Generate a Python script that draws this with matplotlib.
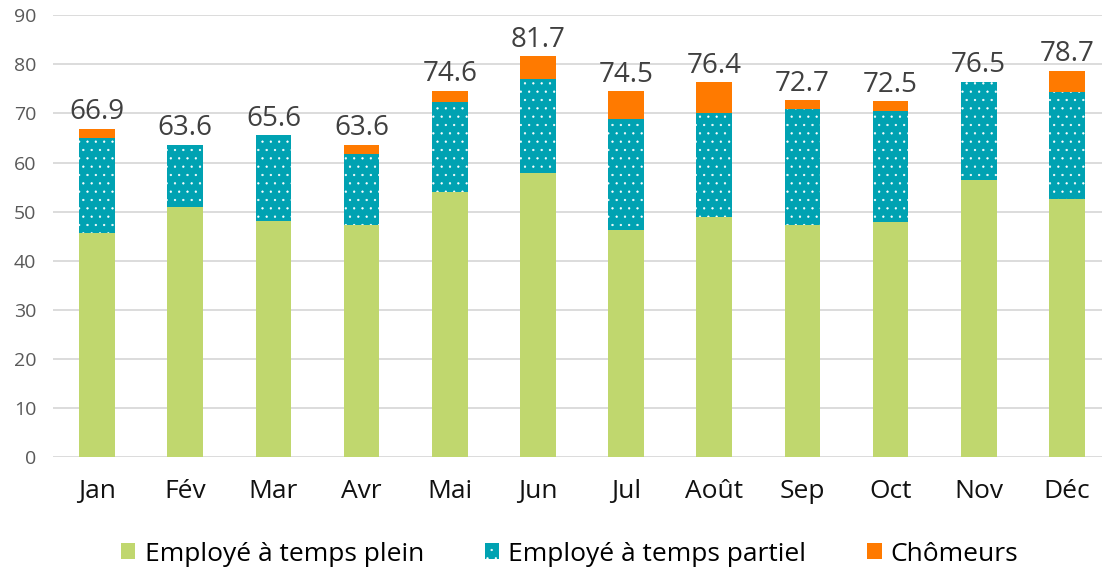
import matplotlib
matplotlib.use("Agg")
import matplotlib.pyplot as plt
import numpy as np

months = ["Jan", "Fév", "Mar", "Avr", "Mai", "Jun", "Jul", "Août", "Sep", "Oct", "Nov", "Déc"]
plein = [45.7, 51.0, 48.0, 47.3, 54.0, 57.9, 46.2, 49.0, 47.3, 47.9, 56.5, 52.6]
partiel = [19.2, 12.6, 17.6, 14.5, 18.4, 19.2, 22.6, 21.1, 23.6, 22.5, 20.0, 21.7]
chomeurs = [2.0, 0.0, 0.0, 1.8, 2.2, 4.6, 5.7, 6.3, 1.8, 2.1, 0.0, 4.4]
series_names = ["Employé à temps plein", "Employé à temps partiel", "Chômeurs"]
yticks = [0, 10, 20, 30, 40, 50, 60, 70, 80, 90]

plt.rcParams['font.family'] = ['Open Sans', 'DejaVu Sans']
plt.rcParams['hatch.linewidth'] = 0.4

c_green = "#C0D76E"
c_teal = "#00A2B2"
c_orange = "#FF7A00"

W, H = 1102, 569
fig = plt.figure(figsize=(W / 100, H / 100), dpi=100)
ax = fig.add_axes([53.1 / W, 112 / H, (1110.9 - 53.1) / W, (553.7 - 112) / H])

x = np.arange(len(months))
bw = 0.405
p = np.array(plein)
q = np.array(partiel)
c = np.array(chomeurs)

ax.bar(x, p, bw, color=c_green, linewidth=0, zorder=3, label=series_names[0])
ax.bar(x, q, bw, bottom=p, color=c_teal, edgecolor="white", linewidth=0,
       hatch="..", zorder=3, label=series_names[1])
ax.bar(x, c, bw, bottom=p + q, color=c_orange, linewidth=0, zorder=3, label=series_names[2])

tot = p + q + c
for xi, t in zip(x, tot):
    ax.text(xi, t + 0.5, f"{t:.1f}", ha="center", va="bottom", fontsize=20, color="#404040")

ax.set_xlim(-0.5, len(months) - 0.5)
ax.set_ylim(0, 90)
ax.set_yticks(yticks)
ax.set_yticklabels([str(v) for v in yticks], fontsize=14, color="#595959")
ax.set_xticks(x)
ax.set_xticklabels(months, fontsize=19, color="#111111")
ax.tick_params(axis="both", length=0)
ax.tick_params(axis="x", pad=16)
ax.tick_params(axis="y", pad=12)
ax.grid(axis="y", color="#D9D9D9", linewidth=1.3, zorder=0)
for s in ax.spines.values():
    s.set_visible(False)

leg = fig.legend(loc="center", bbox_to_anchor=(0.517, 0.026), ncol=3, frameon=False,
                 fontsize=19, handlelength=0.55, handleheight=0.55, handletextpad=0.35,
                 columnspacing=2.3)

fig.savefig("out.png", dpi=100)
